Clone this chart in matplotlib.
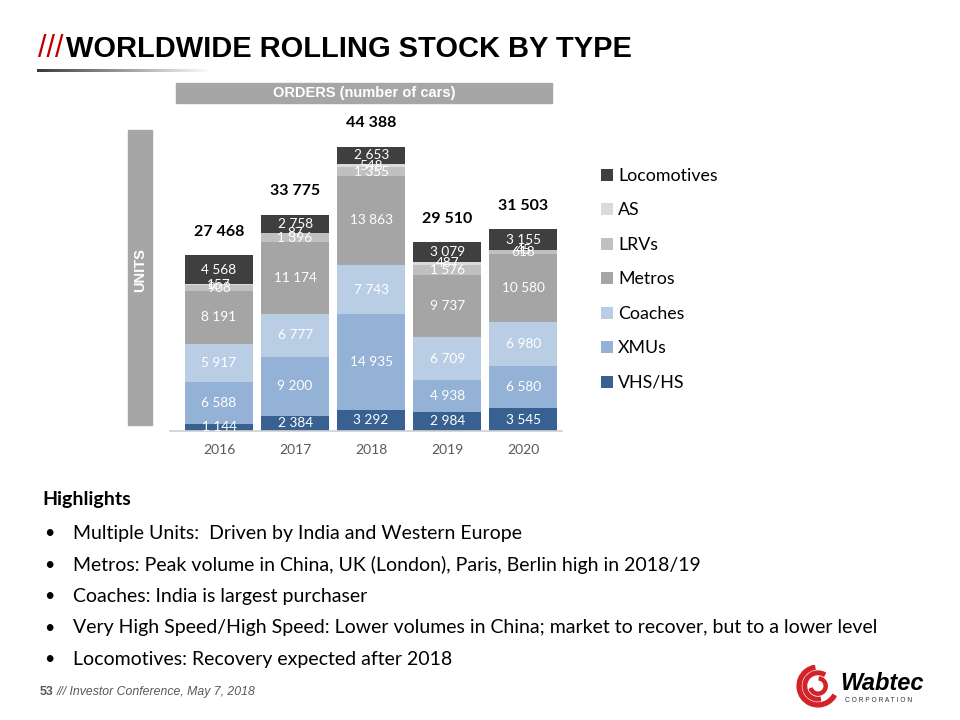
import matplotlib
matplotlib.use("Agg")
import matplotlib.pyplot as plt
import numpy as np
from matplotlib.patches import Rectangle, Wedge

# data
years = ["2016", "2017", "2018", "2019", "2020"]
series = ["VHS/HS", "XMUs", "Coaches", "Metros", "LRVs", "AS", "Locomotives"]
vhs_hs = [1144, 2384, 3292, 2984, 3545]
xmus = [6588, 9200, 14935, 4938, 6580]
coaches = [5917, 6777, 7743, 6709, 6980]
metros = [8191, 11174, 13863, 9737, 10580]
lrvs = [903, 1396, 1355, 1576, 618]
as_cars = [157, 87, 548, 487, 45]
locos = [4568, 2758, 2653, 3079, 3155]
totals = [27468, 33775, 44388, 29510, 31503]

values = [vhs_hs, xmus, coaches, metros, lrvs, as_cars, locos]
colors = ["#386192", "#94b2d6", "#b9cde5", "#a5a5a5", "#c0c0c0", "#dadada", "#3f3f3f"]

highlights = [
    "Multiple Units:  Driven by India and Western Europe",
    "Metros: Peak volume in China, UK (London), Paris, Berlin high in 2018/19",
    "Coaches: India is largest purchaser",
    "Very High Speed/High Speed: Lower volumes in China; market to recover, but to a lower level",
    "Locomotives: Recovery expected after 2018",
]

W, H = 960, 720
fig = plt.figure(figsize=(9.6, 7.2), dpi=100)


def fx(px):
    return px / W


def fy(py):
    return 1 - py / H


calibri = ["Lato", "DejaVu Sans"]
arial = ["Liberation Sans", "DejaVu Sans"]

# title
fig.text(fx(38), fy(49), "///", color="#c00000", fontsize=22, family=arial,
         va="center", ha="left")
fig.text(fx(66), fy(49), "WORLDWIDE ROLLING STOCK BY TYPE", color="black",
         fontsize=20.9, fontweight="bold", family=arial, va="center", ha="left")

# gradient underline
gax = fig.add_axes([fx(37), fy(72), fx(175), 3 / H])
grad = np.linspace(0, 1, 256)[None, :]
gax.imshow(grad, aspect="auto", cmap="gray", vmin=-0.3, vmax=1.0)
gax.axis("off")

# header bar
fig.patches.append(Rectangle((fx(176), fy(103)), fx(552 - 176), 20 / H,
                             transform=fig.transFigure, color="#a6a6a6"))
fig.text(fx(364), fy(93), "ORDERS (number of cars)", color="white",
         fontsize=10.5, fontweight="bold", family=arial, ha="center", va="center")

# units bar
fig.patches.append(Rectangle((fx(128), fy(425)), fx(24), (425 - 130) / H,
                             transform=fig.transFigure, color="#a6a6a6"))
fig.text(fx(140), fy(270), "UNITS", color="white", fontsize=10.5,
         fontweight="bold", family=arial, ha="center", va="center", rotation=90)

# chart
ax = fig.add_axes([fx(170), fy(431), fx(562 - 170), (431 - 110) / H])
x = np.arange(len(years))
bottom = np.zeros(len(years))
handles = []
for name, vals, col in zip(series, values, colors):
    bars = ax.bar(x, vals, bottom=bottom, width=0.89, color=col, label=name)
    handles.append(bars)
    for xi, b, v in zip(x, bottom, vals):
        ax.text(xi, b + v / 2, f"{v:,}".replace(",", " "), color="white",
                fontsize=9.8, family=calibri, ha="center", va="center")
    bottom += np.array(vals)

for xi, t in zip(x, totals):
    ax.annotate(f"{t:,}".replace(",", " "), (xi, bottom[xi]),
                textcoords="offset points", xytext=(0, 17), ha="center",
                va="center", fontsize=11.5, fontweight="bold", family=calibri)

ax.set_xlim(-0.645, 4.51)
ax.set_ylim(0, 50170)
ax.set_xticks(x)
ax.set_xticklabels(years, family=calibri, fontsize=10, color="#595959")
ax.tick_params(axis="x", length=0, pad=9)
ax.set_yticks([])
for s in ["top", "right", "left"]:
    ax.spines[s].set_visible(False)
ax.spines["bottom"].set_color("#d0d0d0")
ax.spines["bottom"].set_linewidth(1.2)

leg = ax.legend(handles[::-1], series[::-1], loc="upper left",
                bbox_to_anchor=(fx(585), fy(152)), bbox_transform=fig.transFigure,
                frameon=False, prop={"family": calibri, "size": 12.8},
                handlelength=0.65, handleheight=0.65, handletextpad=0.3,
                labelspacing=1.04)

# highlights
fig.text(fx(42), fy(499), "Highlights", fontsize=14, fontweight="bold",
         family=calibri, va="center", ha="left")
for i, line in enumerate(highlights):
    yy = 533 + i * 31.6
    fig.text(fx(44), fy(yy), "\u2022", fontsize=13, family=calibri,
             va="center", ha="left")
    fig.text(fx(73), fy(yy), line, fontsize=14.0, family=calibri,
             va="center", ha="left")

# footer
fig.text(fx(40), fy(692), "53", fontsize=8.8, fontweight="bold", color="#595959",
         family=arial, va="center", ha="left")
fig.text(fx(57), fy(692), "/// Investor Conference, May 7, 2018", fontsize=8.8,
         style="italic", color="#595959", family=arial, va="center", ha="left")

# logo
lax = fig.add_axes([fx(796), fy(708), fx(44), 44 / H])
lax.set_xlim(-1, 1)
lax.set_ylim(-1, 1)
lax.set_aspect("equal")
lax.axis("off")
red = "#d2232a"
lax.add_patch(Wedge((0, 0), 0.95, 100, 330, width=0.18, color=red))
lax.add_patch(Wedge((0, 0), 0.68, 60, 280, width=0.16, color=red))
lax.add_patch(Wedge((0, 0), 0.42, 200, 80, width=0.14, color=red))
fig.text(fx(840), fy(684), "Wabtec", fontsize=17, fontweight="bold",
         style="italic", family=arial, va="center", ha="left")
fig.text(fx(845), fy(700), "C O R P O R A T I O N", fontsize=4.8,
         color="#333333", family=arial, va="center", ha="left")

fig.savefig("out.png", dpi=100)
